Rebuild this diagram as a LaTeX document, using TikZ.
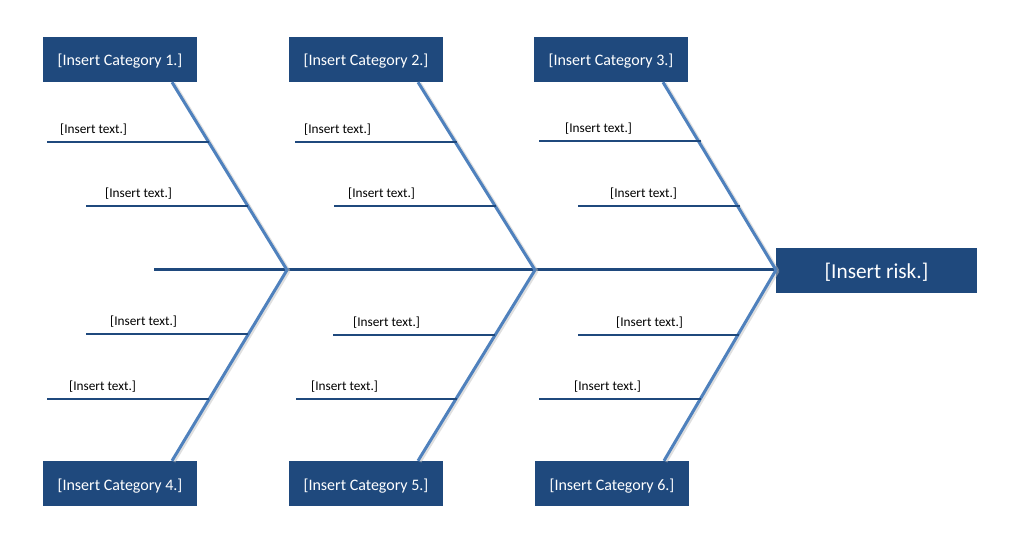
\documentclass[tikz,border=0pt]{standalone}
\usepackage{fontspec}
\setmainfont{Carlito}
\usetikzlibrary{calc}
\definecolor{navy}{HTML}{1F497D}
\definecolor{bonecol}{HTML}{4F81BD}
\begin{document}
\begin{tikzpicture}[x=1pt,y=-1pt,
  catbox/.style={fill=navy,text=white,minimum width=154pt,minimum height=45pt,inner sep=0pt,text height=13pt,text depth=0pt,font=\fontsize{16}{18}\selectfont},
  riskbox/.style={catbox,minimum width=201pt,text height=15.7pt,text depth=0pt,font=\fontsize{21.3}{24}\selectfont},
  lbl/.style={anchor=base west,inner sep=0pt,font=\fontsize{13.3}{15}\selectfont},
  spine/.style={navy,line width=3pt},
  bone/.style={bonecol,line width=3pt},
  boneshadow/.style={black!25,line width=3pt,opacity=0.5},
  twig/.style={navy,line width=2pt}]
\useasboundingbox (0,0) rectangle (1010,545);
% boxes
\node[catbox] (c1) at (120,59.5) {[Insert Category 1.]};
\node[catbox] (c2) at (366,59.5) {[Insert Category 2.]};
\node[catbox] (c3) at (611,59.5) {[Insert Category 3.]};
\node[catbox] (c4) at (120,483.5) {[Insert Category 4.]};
\node[catbox] (c5) at (366,483.5) {[Insert Category 5.]};
\node[catbox] (c6) at (612,483.5) {[Insert Category 6.]};
\node[riskbox] (risk) at (876.5,270.5) {[Insert risk.]};
% junctions
\coordinate (j1) at (287,270);
\coordinate (j2) at (535,270);
\coordinate (j3) at (776,270);
\coordinate (tail) at (154,270);
% spine
\draw[spine] (tail) -- (j3 -| risk.west);
% bones
\foreach \c/\j in {c1/j1,c2/j2,c3/j3} {
  \draw[boneshadow] ($(\c.south)+(54,1)$) -- ($(\j)+(2,1)$);
  \draw[bone] ($(\c.south)+(52,0)$) -- (\j);
}
\foreach \c/\j in {c4/j1,c5/j2,c6/j3} {
  \draw[boneshadow] ($(\c.north)+(54,1)$) -- ($(\j)+(2,1)$);
  \draw[bone] ($(\c.north)+(52,0)$) -- (\j);
}
% sub-lines and labels
\foreach \n/\xa/\xb/\y/\tx in {
  1/47/209/142/60, 2/86/248/206/105, 3/86/248/334/110, 4/47/209/399/69,
  5/295/457/142/304, 6/334/496/206/348, 7/333/495/335/353, 8/296/457/399/311,
  9/539/701/141/565, 10/578/740/206/610, 11/578/739/335/616, 12/539/701/399/574} {
  \coordinate (s\n) at (\xa,\y);
  \coordinate (e\n) at (\xb,\y);
  \draw[twig] (s\n) -- (e\n);
  \node[lbl] (t\n) at (\tx,\y-8.5) {[Insert text.]};
}
\end{tikzpicture}
\end{document}
